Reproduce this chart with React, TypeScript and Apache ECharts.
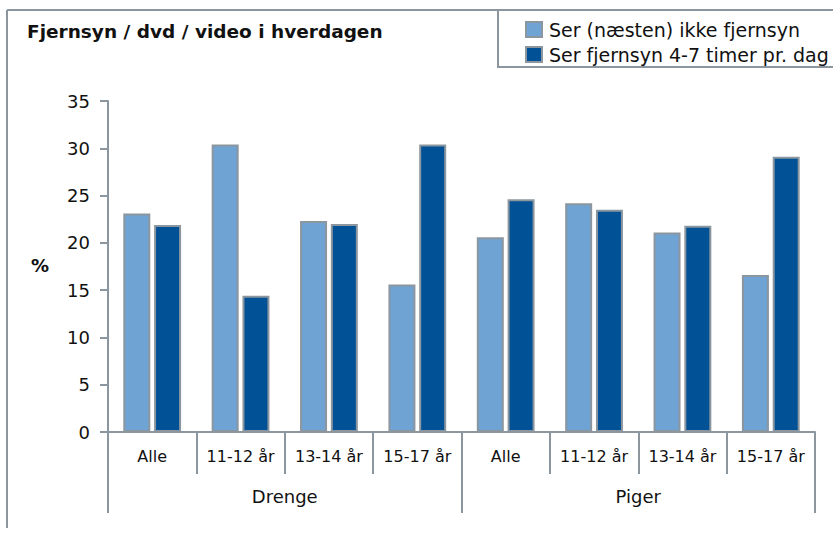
import React, { useEffect, useRef } from "react";
import * as echarts from "echarts";

const categories = ["Alle", "11-12 år", "13-14 år", "15-17 år", "Alle", "11-12 år", "13-14 år", "15-17 år"];
const groups = ["Drenge", "Piger"];
const seriesNames = ["Ser (næsten) ikke fjernsyn", "Ser fjernsyn 4-7 timer pr. dag"];
const notWatching = [23.1, 30.4, 22.3, 15.6, 20.6, 24.2, 21.1, 16.6];
const heavyWatching = [21.9, 14.4, 22.0, 30.4, 24.6, 23.5, 21.8, 29.1];
const title = "Fjernsyn / dvd / video i hverdagen";

const FONT = "DejaVu Sans, Verdana, sans-serif";
const GRAY = "#8c969e";

export default function App() {
  const ref = useRef<HTMLDivElement>(null);
  useEffect(() => {
    document.body.style.margin = "0";
    const chart = echarts.init(ref.current!, null, { renderer: "svg" });
    chart.setOption({
      animation: false,
      backgroundColor: "#fff",
      textStyle: { fontFamily: FONT },
      graphic: [
        { type: "line", shape: { x1: 7, y1: 10, x2: 833, y2: 10 }, style: { stroke: GRAY, lineWidth: 2 } },
        { type: "line", shape: { x1: 7, y1: 10, x2: 7, y2: 528 }, style: { stroke: GRAY, lineWidth: 2 } },
        { type: "rect", shape: { x: 498, y: 10, width: 340, height: 57 }, style: { fill: "#fff", stroke: GRAY, lineWidth: 2 }, z: -1 },
        { type: "text", left: 27, top: 22, style: { text: title, font: "bold 18.5px " + FONT, fill: "#111" } },
        { type: "text", left: 31, top: 256, style: { text: "%", font: "bold 18px " + FONT, fill: "#111" } },
      ],
      legend: {
        orient: "vertical",
        left: 520,
        top: 15,
        itemWidth: 16,
        itemHeight: 15,
        itemGap: 6,
        icon: "rect",
        textStyle: { fontSize: 19, fontFamily: FONT, color: "#111", padding: [0, 0, 0, 2] },
        data: seriesNames,
      },
      grid: { left: 108, right: 18, top: 101, bottom: 102, containLabel: false },
      xAxis: [
        {
          type: "category",
          data: categories,
          position: "bottom",
          axisLine: { show: true, lineStyle: { color: GRAY, width: 2 } },
          axisTick: { show: true, interval: 0, length: 42, lineStyle: { color: GRAY, width: 2 } },
          axisLabel: { interval: 0, margin: 16, fontSize: 16, color: "#111", fontFamily: FONT },
        },
        {
          type: "category",
          data: groups,
          position: "bottom",
          axisLine: { show: false },
          axisTick: { show: true, interval: 0, length: 81, lineStyle: { color: GRAY, width: 2 } },
          axisLabel: { interval: 0, margin: 55, fontSize: 18, color: "#111", fontFamily: FONT },
        },
      ],
      yAxis: {
        type: "value",
        min: 0,
        max: 35,
        interval: 5,
        axisLine: { show: true, lineStyle: { color: GRAY, width: 2 } },
        axisTick: { show: true, length: 8, lineStyle: { color: GRAY, width: 2 } },
        axisLabel: { fontSize: 18, color: "#111", margin: 18, fontFamily: FONT },
        splitLine: { show: false },
      },
      series: [
        {
          name: seriesNames[0],
          type: "bar",
          data: notWatching,
          barWidth: 27,
          barGap: "14%",
          itemStyle: { color: "#6ea3d4", borderColor: GRAY, borderWidth: 2 },
        },
        {
          name: seriesNames[1],
          type: "bar",
          data: heavyWatching,
          barWidth: 27,
          barGap: "14%",
          itemStyle: { color: "#005196", borderColor: GRAY, borderWidth: 2 },
        },
      ],
    });
    return () => chart.dispose();
  }, []);
  return <div ref={ref} style={{ width: 833, height: 534 }} />;
}
